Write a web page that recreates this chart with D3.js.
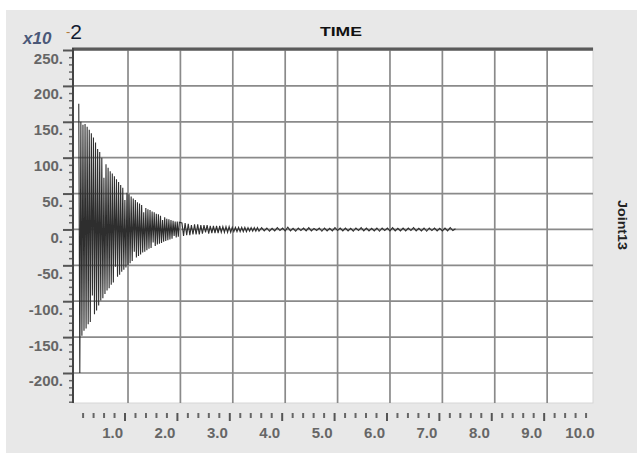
<!DOCTYPE html>
<html>
<head>
<meta charset="utf-8">
<script src="https://cdn.jsdelivr.net/npm/d3@7"></script>
<style>
  body { margin: 0; background: #fff; }
  text { font-family: "Liberation Sans", Arial, sans-serif; }
</style>
</head>
<body>
<div id="chart"></div>
<script>
// Tick labels
var yTicks = [250, 200, 150, 100, 50, 0, -50, -100, -150, -200];
var xTicks = [1, 2, 3, 4, 5, 6, 7, 8, 9, 10];

// Joint13 response (x10^-2), read as alternating peaks
// burst: t = 0.06 .. 2.00, every 0.02 s
var burstStart = 0.06, burstStep = 0.02;
var burstValues = [175, -200, 150, -148, 146, -141, 147, -138, 143, -132, 139, -129, 134, -92,
  128, -118, 121, -113, 112, -106, 108, -99, 100, -96, 72, -90, 91, -85, 86, -82, 81, -77,
  78, -74, 74, -52, 70, -66, 66, -63, 62, -59, 58, -56, 41, -53, 51, -50,
  49, -47, 46, -44, 43, -31, 41, -39, 38, -37, 36, -35, 34, -32, 24, -31, 30, -29, 28, -27,
  27, -26, 25, -18, 24, -23, 22, -21, 21, -20, 19, -19, 13, -17, 17, -16, 15, -15, 14, -14,
  13, -13, 12, -9, 11, -11, 11, -10, 10];
// decay: t = 2.03 .. 3.50, every 0.03 s
var decayStart = 2.03, decayStep = 0.03;
var decayValues = [9, -9, 9, -8, 8, -8, 6, -7, 7, -7, 7, -7, 6, -6, 6, -4, 6, -6, 5, -5,
  5, -5, 5, -5, 5, -4, 4, -4, 4, -4, 4, -4, 3, -3, 3, -3, 3, -3, 3, -3,
  3, -3, 2.5, -2.5, 2.5, -2.5, 2.5, -2.5, 2.5, -2.5];
// tail: t = 3.55 .. 7.25, every 0.05 s
var tailStart = 3.55, tailStep = 0.05;
var tailValues = [2.5, -2, 2, -2.5, 1.5, -2, 2.5, -1.5, 2, -2, 3, -2, 1.5, -2.5, 2, -1.5, 2, -2, 2.5, -2,
  1.5, -1.5, 2, -2.5, 2, -2, 1.5, -2, 2.5, -1.5, 2, -2, 2, -2, 1.5, -2.5, 2, -1.5, 2.5, -2,
  2, -2, 1.5, -2, 2, -2.5, 2, -1.5, 2, -2, 2.5, -2, 1.5, -2, 2, -2, 2, -1.5, 2.5, -2,
  1.5, -2, 2, -2.5, 2, -1.5, 2, -2, 1.5, -2, 2, -2, 2.5, -1.5, 1];

var W = 637, H = 455;
var plot = { left: 73, right: 593, top: 48, bottom: 403 };

var svg = d3.select("#chart")
  .append("svg")
    .attr("width", W)
    .attr("height", H);

// grey panel
svg.append("rect")
  .attr("x", 6).attr("y", 10)
  .attr("width", W - 6).attr("height", 443)
  .attr("fill", "#e8e8e8");

// white plot area
svg.append("rect")
  .attr("x", plot.left).attr("y", plot.top)
  .attr("width", plot.right - plot.left).attr("height", plot.bottom - plot.top)
  .attr("fill", "#fff")
  .attr("stroke", "#d6d6d6")
  .attr("stroke-width", 1);

var x = d3.scaleLinear().domain([-0.05, 9.875]).range([plot.left, plot.right]);
var y = d3.scaleLinear().domain([-241.8, 252.8]).range([plot.bottom, plot.top]);
// tick ruler below the plot sits a few px left of the grid
var xt = d3.scaleLinear().domain(x.domain()).range([plot.left - 3.5, plot.right - 3.5]);

svg.append("clipPath").attr("id", "clip")
  .append("rect")
    .attr("x", plot.left).attr("y", plot.top)
    .attr("width", plot.right - plot.left).attr("height", plot.bottom - plot.top);

// gridlines
var grid = svg.append("g").attr("stroke", "#8a8a8a").attr("stroke-width", 1.7);
grid.selectAll("line.h")
  .data(yTicks)
  .enter().append("line")
    .attr("x1", plot.left).attr("x2", plot.right)
    .attr("y1", d => y(d)).attr("y2", d => y(d));
grid.selectAll("line.v")
  .data(xTicks.filter(d => x(d) < plot.right))
  .enter().append("line")
    .attr("x1", d => x(d)).attr("x2", d => x(d))
    .attr("y1", plot.top).attr("y2", plot.bottom);

// build the signal points from the three segments
var points = [];
burstValues.forEach((v, i) => points.push([burstStart + i * burstStep, v]));
decayValues.forEach((v, i) => points.push([decayStart + i * decayStep, v]));
tailValues.forEach((v, i) => points.push([tailStart + i * tailStep, v]));

var line = d3.line()
  .x(d => x(d[0]))
  .y(d => y(d[1]));

svg.append("path")
  .datum(points)
  .attr("clip-path", "url(#clip)")
  .attr("fill", "none")
  .attr("stroke", "#2e2e2e")
  .attr("stroke-width", 1.1)
  .attr("d", line);

// top border
svg.append("line")
  .attr("x1", plot.left - 1).attr("x2", plot.right)
  .attr("y1", plot.top + 1).attr("y2", plot.top + 1)
  .attr("stroke", "#5a5a5a").attr("stroke-width", 3);

// y axis: minor ticks every 10, major every 50
var yMinor = d3.range(-240, 251, 10).filter(d => d % 50 !== 0);
svg.append("g")
  .attr("transform", "translate(" + plot.left + ",0)")
  .call(d3.axisLeft(y).tickValues(yMinor).tickSize(4).tickFormat(""))
  .call(g => g.select(".domain").remove())
  .selectAll("line").attr("stroke", "#666").attr("stroke-width", 1.5);

var yAxis = svg.append("g")
  .attr("transform", "translate(" + plot.left + ",0)")
  .call(d3.axisLeft(y).tickValues(yTicks).tickSize(10).tickFormat(d => d + "."));
yAxis.select(".domain").remove();
yAxis.selectAll("line").attr("stroke", "#555").attr("stroke-width", 2);
yAxis.selectAll("text")
  .attr("x", -10).attr("y", 13).attr("dy", 0)
  .attr("fill", "#666")
  .style("font-size", "15px").style("font-weight", "bold");

svg.append("line")
  .attr("x1", plot.left).attr("x2", plot.left)
  .attr("y1", plot.top).attr("y2", plot.bottom)
  .attr("stroke", "#444").attr("stroke-width", 2);

// x ruler: minor every 0.2, major every 1
var xMinor = d3.range(1, 50).map(d => d / 5).filter(d => Math.abs(d - Math.round(d)) > 1e-6);
svg.append("g")
  .attr("transform", "translate(0,413)")
  .call(d3.axisBottom(xt).tickValues(xMinor).tickSize(5).tickFormat(""))
  .call(g => g.select(".domain").remove())
  .selectAll("line").attr("stroke", "#666").attr("stroke-width", 2);

var xAxis = svg.append("g")
  .attr("transform", "translate(0,413)")
  .call(d3.axisBottom(xt).tickValues(xTicks).tickSize(8).tickFormat(d3.format(".1f")));
xAxis.select(".domain").remove();
xAxis.selectAll("line")
  .attr("stroke", "#555").attr("stroke-width", 2)
  .attr("display", d => xt(d) > plot.right ? "none" : null);
xAxis.selectAll("text")
  .attr("text-anchor", "end")
  .attr("x", -2).attr("y", 25).attr("dy", 0)
  .attr("fill", "#666")
  .style("font-size", "15px").style("font-weight", "bold");

// titles
svg.append("text")
  .attr("x", 341).attr("y", 36)
  .attr("text-anchor", "middle")
  .attr("textLength", 42).attr("lengthAdjust", "spacingAndGlyphs")
  .style("font-size", "13px").style("font-weight", "bold")
  .attr("fill", "#111")
  .text("TIME");

svg.append("text")
  .attr("transform", "translate(618,225) rotate(90)")
  .attr("text-anchor", "middle")
  .attr("textLength", 50).attr("lengthAdjust", "spacingAndGlyphs")
  .style("font-size", "13px").style("font-weight", "bold")
  .attr("fill", "#222")
  .text("Joint13");

// exponent label
svg.append("text")
  .attr("x", 23).attr("y", 44)
  .style("font-size", "17px").style("font-style", "italic").style("font-weight", "bold")
  .attr("fill", "#4b5878")
  .text("x10");

var expo = svg.append("text").attr("x", 66).attr("y", 39);
expo.append("tspan")
  .style("font-size", "13px").attr("fill", "#b07a3a").attr("dy", -3)
  .text("-");
expo.append("tspan")
  .style("font-size", "21px").attr("fill", "#121a30").attr("dy", 3)
  .text("2");
</script>
</body>
</html>
